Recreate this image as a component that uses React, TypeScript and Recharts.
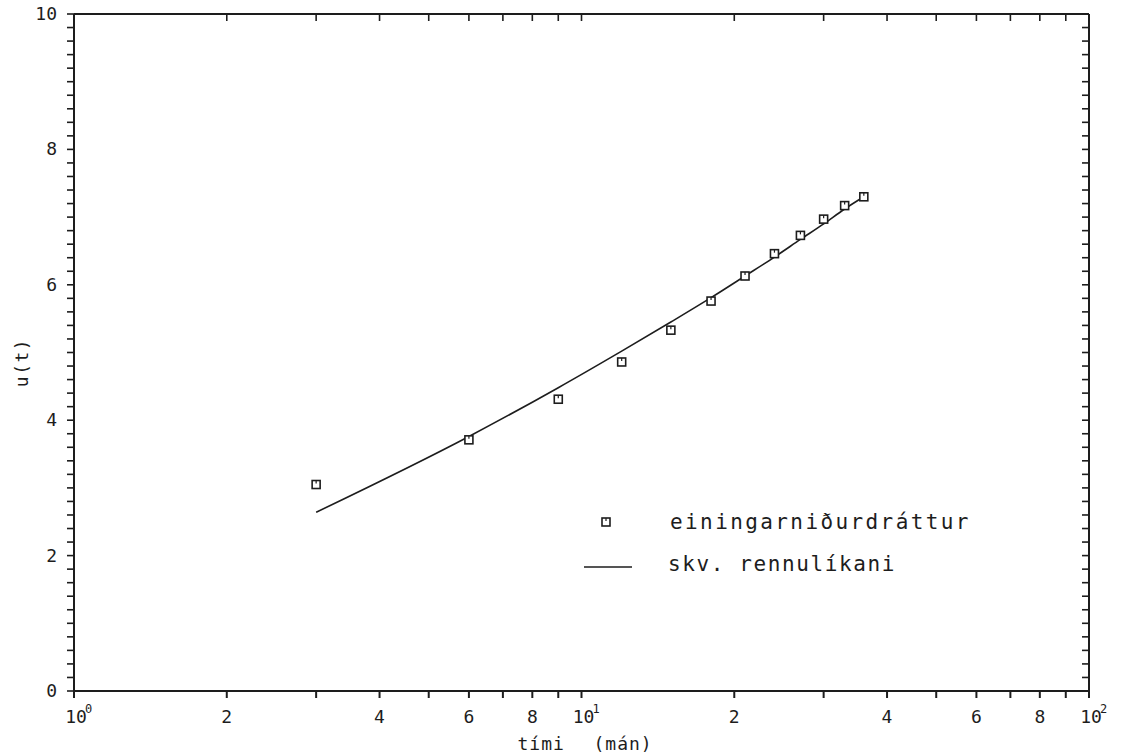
import { ComposedChart, Line, Scatter, XAxis, YAxis, Legend, Label } from 'recharts';

// Time in months (log axis) and settlement u(t)
const MONTHS = [3, 6, 9, 12, 15, 18, 21, 24, 27, 30, 33, 36];
const MEASURED = [3.05, 3.71, 4.31, 4.86, 5.33, 5.76, 6.13, 6.46, 6.73, 6.97, 7.17, 7.3];
const MODEL = [2.64, 3.76, 4.48, 5.02, 5.45, 5.81, 6.13, 6.41, 6.67, 6.9, 7.12, 7.3];

const X_TICKS = [1, 2, 3, 4, 5, 6, 7, 8, 9, 10, 20, 30, 40, 50, 60, 70, 80, 90, 100];
const X_TICK_LABELS = ['10^0', '2', '', '4', '', '6', '', '8', '', '10^1', '2', '', '4', '', '6', '', '8', '', '10^2'];
const Y_MAJOR = [0, 2, 4, 6, 8, 10];
const Y_TICKS = Array.from({ length: 51 }, (_, i) => Math.round(i * 2) / 10);

const SERIES_NAMES = ['einingarniðurdráttur', 'skv. rennulíkani'];

const INK = '#1d1d1d';
const FONT = '"DejaVu Sans Mono", "Liberation Mono", monospace';
const TICK = 7;

const measured = MONTHS.map((t, i) => ({ t, u: MEASURED[i] }));
const model = MONTHS.map((t, i) => ({ t, u: MODEL[i] }));

function XTick({ x, y, payload }: any) {
  const idx = X_TICKS.indexOf(payload.value);
  const label = X_TICK_LABELS[idx] || '';
  if (!label) return null;
  const base = y + 21;
  if (label.startsWith('10^')) {
    const exp = label.slice(3);
    return (
      <g>
        <text x={x + 2} y={base} textAnchor="middle" fontFamily={FONT} fontSize={18} fill={INK}>10</text>
        <text x={x + 11} y={base - 10} textAnchor="start" fontFamily={FONT} fontSize={12} fill={INK}>{exp}</text>
      </g>
    );
  }
  return (
    <text x={x} y={base} textAnchor="middle" fontFamily={FONT} fontSize={18} fill={INK}>{label}</text>
  );
}

// left axis: draws its own tick mark for every 0.2 step, label on even values
function YTick({ x, y, payload }: any) {
  const lineX = x + 10;
  return (
    <g>
      <line x1={lineX} y1={y} x2={lineX + TICK} y2={y} stroke={INK} strokeWidth={1.6} />
      {Y_MAJOR.includes(payload.value) && (
        <text x={x} y={y} dy={6} textAnchor="end" fontFamily={FONT} fontSize={18} fill={INK}>{payload.value}</text>
      )}
    </g>
  );
}

// right frame: ticks pointing inward (to the left)
function RightTick({ x, y }: any) {
  return <line x1={x} y1={y} x2={x - TICK} y2={y} stroke={INK} strokeWidth={1.6} />;
}

// top frame: ticks pointing inward (downward)
function TopTick({ x, y }: any) {
  return <line x1={x} y1={y} x2={x} y2={y + TICK} stroke={INK} strokeWidth={1.6} />;
}

function Square({ cx, cy }: any) {
  if (cx == null || cy == null) return null;
  return (
    <g>
      <rect x={cx - 4} y={cy - 4} width={8} height={8} fill="#fff" stroke={INK} strokeWidth={1.6} />
      <line x1={cx} y1={cy - 4} x2={cx} y2={cy - 1} stroke={INK} strokeWidth={1.2} />
    </g>
  );
}

function renderLegend() {
  return (
    <svg width={440} height={84} style={{ display: 'block' }}>
      <Square cx={26} cy={22} />
      <text x={90} y={29} fontFamily={FONT} fontSize={21} letterSpacing={2.4} fill={INK}>{SERIES_NAMES[0]}</text>
      <line x1={4} y1={67} x2={52} y2={67} stroke={INK} strokeWidth={1.6} />
      <text x={88} y={71} fontFamily={FONT} fontSize={21} letterSpacing={1.6} fill={INK}>{SERIES_NAMES[1]}</text>
    </svg>
  );
}

export default function App() {
  return (
    <div style={{ position: 'absolute', left: 0, top: 0, width: 1122, height: 756, background: '#fff' }}>
      <ComposedChart width={1122} height={756} margin={{ top: 13, right: 32, bottom: 0, left: 0 }}>
        <XAxis
          dataKey="t"
          type="number"
          scale="log"
          domain={[1, 100]}
          ticks={X_TICKS}
          interval={0}
          allowDataOverflow
          height={65}
          stroke={INK}
          strokeWidth={2}
          tickSize={TICK}
          tickMargin={4}
          tick={<XTick />}
        >
          <Label
            content={({ viewBox }: any) => {
              const cx = viewBox.x + viewBox.width / 2;
              const by = viewBox.y + viewBox.height - 6;
              return (
                <g fontFamily={FONT} fontSize={18} letterSpacing={1} fill={INK}>
                  <text x={cx - 64} y={by}>tími</text>
                  <text x={cx + 12} y={by}>(mán)</text>
                </g>
              );
            }}
          />
        </XAxis>
        <XAxis
          xAxisId="top"
          orientation="top"
          dataKey="t"
          type="number"
          scale="log"
          domain={[1, 100]}
          ticks={X_TICKS}
          interval={0}
          allowDataOverflow
          height={1}
          stroke={INK}
          strokeWidth={2}
          tickLine={false}
          tick={<TopTick />}
          tickMargin={0}
          tickSize={0}
        />
        <YAxis
          type="number"
          domain={[0, 10]}
          ticks={Y_TICKS}
          interval={0}
          width={74}
          stroke={INK}
          strokeWidth={2}
          tickLine={false}
          tickSize={TICK}
          tickMargin={10}
          tick={<YTick />}
        >
          <Label
            content={({ viewBox }: any) => {
              const cx = viewBox.x + 22;
              const cy = viewBox.y + viewBox.height / 2 + 10;
              return (
                <text
                  transform={`translate(${cx},${cy}) rotate(-90)`}
                  textAnchor="middle"
                  dy={6}
                  fontFamily={FONT}
                  fontSize={18}
                  letterSpacing={1.5}
                  fill={INK}
                >
                  u(t)
                </text>
              );
            }}
          />
        </YAxis>
        <YAxis
          yAxisId="right"
          orientation="right"
          type="number"
          domain={[0, 10]}
          ticks={Y_TICKS}
          interval={0}
          width={1}
          stroke={INK}
          strokeWidth={2}
          tickLine={false}
          tick={<RightTick />}
          tickMargin={0}
          tickSize={0}
        />
        <Legend
          layout="vertical"
          align="center"
          verticalAlign="middle"
          content={renderLegend}
          wrapperStyle={{ left: 580, top: 500, width: 440, height: 84 }}
        />
        <Line
          data={model}
          dataKey="u"
          type="monotone"
          stroke={INK}
          strokeWidth={1.6}
          dot={false}
          activeDot={false}
          isAnimationActive={false}
        />
        <Scatter data={measured} dataKey="u" shape={<Square />} isAnimationActive={false} />
        {/* frame axes need a series bound to them */}
        <Scatter
          data={measured}
          dataKey="u"
          xAxisId="top"
          yAxisId="right"
          shape={() => <g />}
          legendType="none"
          isAnimationActive={false}
        />
      </ComposedChart>
    </div>
  );
}
